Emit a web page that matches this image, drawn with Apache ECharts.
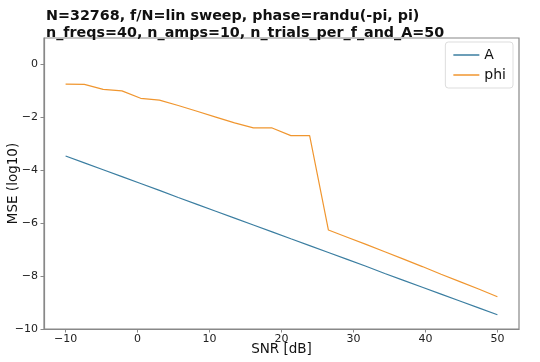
<!DOCTYPE html>
<html>
<head>
<meta charset="utf-8">
<script src="https://cdn.jsdelivr.net/npm/echarts@6/dist/echarts.min.js"></script>
<style>html,body{margin:0;padding:0;background:#fff}#c{width:540px;height:362px}</style>
</head>
<body>
<div id="c"></div>
<script>
const snr = [-10, -7.39, -4.78, -2.17, 0.43, 3.04, 5.65, 8.26, 10.87, 13.48, 16.09, 18.70, 21.30, 23.91, 26.52, 29.13, 31.74, 34.35, 36.96, 39.57, 42.17, 44.78, 47.39, 50];
const mseA = [-3.46, -3.72, -3.98, -4.24, -4.50, -4.76, -5.03, -5.29, -5.55, -5.81, -6.07, -6.33, -6.59, -6.85, -7.11, -7.37, -7.63, -7.90, -8.16, -8.42, -8.68, -8.94, -9.20, -9.46];
const msePhi = [-0.74, -0.75, -0.94, -1.00, -1.28, -1.35, -1.55, -1.77, -1.99, -2.21, -2.40, -2.40, -2.69, -2.69, -6.26, -6.53, -6.80, -7.08, -7.36, -7.64, -7.93, -8.21, -8.49, -8.78];
const xTicks = [-10, 0, 10, 20, 30, 40, 50];
const yTicks = [-10, -8, -6, -4, -2, 0];
const titleLines = ['N=32768, f/N=lin sweep, phase=randu(-pi, pi)', 'n_freqs=40, n_amps=10, n_trials_per_f_and_A=50'];

const fmt = v => String(v).replace('-', '\u2212');
const font = 'DejaVu Sans';
const axisCol = '#888';
const chart = echarts.init(document.getElementById('c'), null, {renderer: 'canvas'});
chart.setOption({
  animation: false,
  backgroundColor: '#fff',
  title: {
    text: titleLines.join('\n'),
    left: 41, top: 3,
    textStyle: {fontFamily: font, fontWeight: 'bold', fontSize: 14.3, lineHeight: 17, color: '#111'}
  },
  grid: {left: 44, right: 21, top: 38, bottom: 33, show: true, borderColor: axisCol, borderWidth: 1.2,
         outerBoundsMode: 'none', containLabel: false},
  legend: {
    orient: 'vertical', right: 27, top: 42,
    data: [{name: 'A', icon: 'rect'}, {name: 'phi', icon: 'rect'}],
    itemWidth: 26, itemHeight: 1.5, itemGap: 6,
    textStyle: {fontFamily: font, fontSize: 14, color: '#111'},
    borderColor: '#ddd', borderWidth: 1, borderRadius: 3, padding: [6, 7, 6, 8],
    backgroundColor: '#fff'
  },
  xAxis: {
    type: 'value', min: -13, max: 53,
    name: 'SNR [dB]', nameLocation: 'middle', nameGap: 13, nameMoveOverlap: false,
    nameTextStyle: {fontFamily: font, fontSize: 13.5, color: '#111', verticalAlign: 'top'},
    axisLine: {show: true, onZero: false, lineStyle: {color: axisCol, width: 1.2}},
    axisTick: {show: true, length: 3.5, customValues: xTicks, lineStyle: {color: axisCol}},
    axisLabel: {customValues: xTicks, formatter: fmt, fontFamily: font, fontSize: 11, color: '#222', margin: 5},
    splitLine: {show: false}
  },
  yAxis: {
    type: 'value', min: -10, max: 1,
    name: 'MSE (log10)', nameLocation: 'middle', nameGap: 24, nameMoveOverlap: false,
    nameTextStyle: {fontFamily: font, fontSize: 13.5, color: '#111'},
    axisLine: {show: true, onZero: false, lineStyle: {color: axisCol, width: 1.2}},
    axisTick: {show: true, length: 3.5, customValues: yTicks, lineStyle: {color: axisCol}},
    axisLabel: {customValues: yTicks, formatter: fmt, fontFamily: font, fontSize: 11, color: '#222', margin: 6},
    splitLine: {show: false}
  },
  series: [
    {name: 'A', type: 'line', data: snr.map((x, i) => [x, mseA[i]]), showSymbol: false,
     lineStyle: {color: '#3b7ea1', width: 1.2}, itemStyle: {color: '#3b7ea1'}},
    {name: 'phi', type: 'line', data: snr.map((x, i) => [x, msePhi[i]]), showSymbol: false,
     lineStyle: {color: '#f0962f', width: 1.2}, itemStyle: {color: '#f0962f'}}
  ]
});
</script>
</body>
</html>
